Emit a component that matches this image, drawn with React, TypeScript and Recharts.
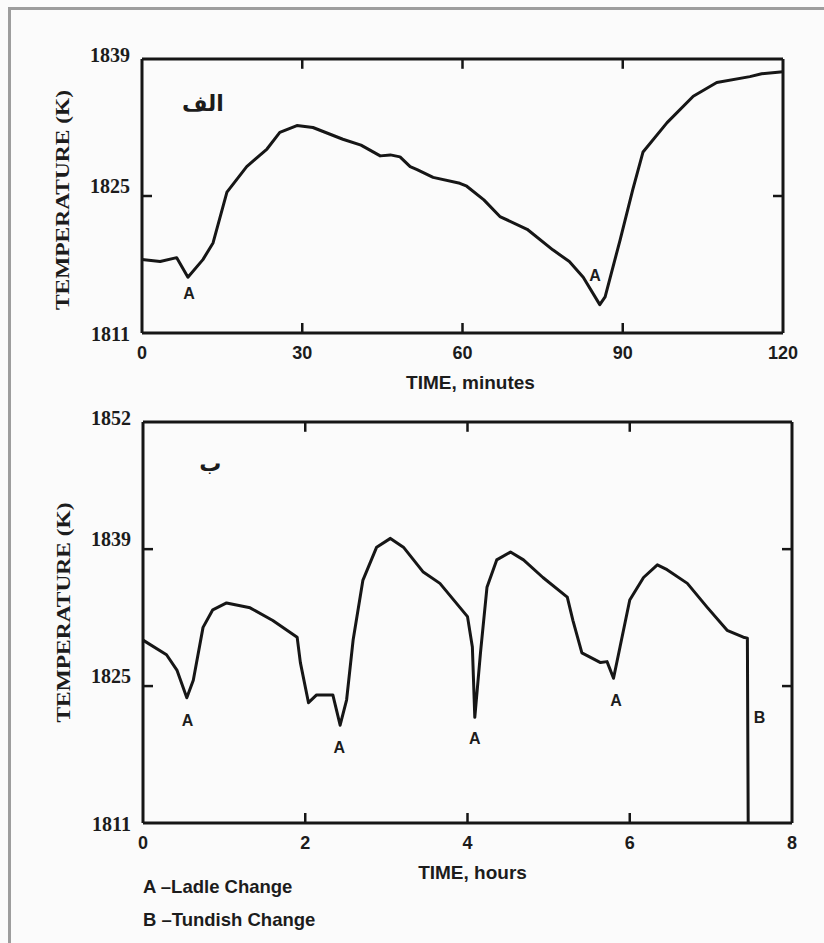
import React from 'react';
import { LineChart, Line, XAxis, YAxis, ReferenceDot, ReferenceLine } from 'recharts';

// panel الف : temperature vs minutes
const minutes = [0, 3.4, 6.5, 8.6, 11.4, 13.3, 15.9, 19.6, 23.4, 25.8, 29, 32, 37.6, 41, 44.6, 46.5, 48.3, 50.2, 51.5, 54.5, 59.5, 60.8, 64, 67, 72.1, 76.9, 80, 82.6, 85.7, 86.7, 89.5, 91.9, 93.8, 98.3, 103.2, 107.6, 113.8, 116, 120];
const tempMin = [1818.5, 1818.3, 1818.7, 1816.7, 1818.5, 1820.2, 1825.4, 1828.0, 1829.8, 1831.5, 1832.2, 1832.0, 1830.8, 1830.2, 1829.1, 1829.2, 1829.0, 1828.0, 1827.7, 1826.9, 1826.3, 1826.0, 1824.6, 1822.9, 1821.6, 1819.5, 1818.3, 1816.7, 1813.9, 1814.7, 1820.5, 1825.7, 1829.5, 1832.5, 1835.2, 1836.6, 1837.2, 1837.5, 1837.7];

// panel ب : temperature vs hours
const hours = [0, 0.29, 0.42, 0.54, 0.62, 0.74, 0.86, 1.03, 1.32, 1.6, 1.9, 1.94, 2.04, 2.14, 2.34, 2.43, 2.51, 2.59, 2.71, 2.88, 3.05, 3.21, 3.45, 3.66, 4.0, 4.06, 4.09, 4.16, 4.24, 4.36, 4.53, 4.69, 4.93, 5.23, 5.3, 5.41, 5.64, 5.72, 5.8, 5.88, 6.0, 6.17, 6.34, 6.46, 6.71, 6.95, 7.2, 7.4, 7.45, 7.46];
const tempHr = [1829.7, 1828.2, 1826.6, 1823.8, 1825.6, 1831.0, 1832.8, 1833.5, 1833.0, 1831.7, 1830.0, 1827.4, 1823.3, 1824.1, 1824.1, 1821.0, 1823.6, 1829.7, 1835.8, 1839.2, 1840.1, 1839.2, 1836.7, 1835.5, 1832.1, 1829.0, 1821.8, 1828.4, 1835.1, 1837.9, 1838.7, 1837.9, 1836.1, 1834.1, 1831.7, 1828.4, 1827.4, 1827.5, 1825.8, 1829.0, 1833.8, 1836.1, 1837.4, 1836.9, 1835.5, 1833.1, 1830.7, 1830.0, 1829.9, 1811];

const minTicks = [0, 30, 60, 90, 120];
const hrTicks = [0, 2, 4, 6, 8];
const tempTicksA = [1811, 1825, 1839];
const tempTicksB = [1811, 1825, 1839, 1852];

// annotations (data units)
const notesMin = [{ x: 8.8, y: 1815.1, t: 'A' }, { x: 84.8, y: 1816.9, t: 'A' }];
const notesHr = [
  { x: 0.55, y: 1821.5, t: 'A' },
  { x: 2.42, y: 1818.8, t: 'A' },
  { x: 4.09, y: 1819.7, t: 'A' },
  { x: 5.83, y: 1823.6, t: 'A' },
  { x: 7.6, y: 1821.8, t: 'B' },
];

const dataMin = minutes.map((t, i) => ({ t, temp: tempMin[i] }));
const dataHr = hours.map((t, i) => ({ t, temp: tempHr[i] }));

const INK = '#161616';
const SANS = '"Liberation Sans", Arial, sans-serif';
const SERIF = '"Liberation Serif", "Times New Roman", serif';

const BottomTick = (p: any) => {
  const { x, y, payload, inner } = p;
  return (
    <g>
      {inner.includes(payload.value) && <line x1={x} y1={y} x2={x} y2={y - 10} stroke={INK} strokeWidth={2.5} />}
      <text x={x} y={y + 26} textAnchor="middle" fontFamily={SANS} fontSize={18} fontWeight={600} fill="#1c1c1c">
        {payload.value}
      </text>
    </g>
  );
};

const LeftTick = (p: any) => {
  const { x, y, payload, inner, last } = p;
  const dy = payload.value === last ? 9 : payload.value === 1811 ? 14 : 3;
  return (
    <g>
      {inner.includes(payload.value) && <line x1={x} y1={y} x2={x + 10} y2={y} stroke={INK} strokeWidth={2.5} />}
      <text x={x - 12} y={y + dy - 6} textAnchor="end" fontFamily={SERIF} fontSize={20} fontWeight={700} fill="#1c1c1c">
        {payload.value}
      </text>
    </g>
  );
};

const RightTick = (p: any) => <line x1={p.x} y1={p.y} x2={p.x - 10} y2={p.y} stroke={INK} strokeWidth={2.5} />;

// inward tick marks on the top frame edge
const topTicks = (xs: number[], yTop: number, len: number) =>
  xs.map((x) => (
    <ReferenceLine
      key={'tt' + x}
      segment={[{ x, y: yTop }, { x, y: yTop - len }]}
      stroke={INK}
      strokeWidth={2.5}
    />
  ));

const note = (n: { x: number; y: number; t: string }, i: number) => (
  <ReferenceDot
    key={i}
    x={n.x}
    y={n.y}
    r={0}
    stroke="none"
    shape={(s: any) => (
      <text x={s.cx} y={s.cy + 6} textAnchor="middle" fontFamily={SANS} fontSize={16} fontWeight={600} fill="#1c1c1c">
        {n.t}
      </text>
    )}
  />
);

const arabic = (x: number, y: number, t: string) => (
  <ReferenceDot
    x={x}
    y={y}
    r={0}
    stroke="none"
    shape={(s: any) => (
      <text x={s.cx} y={s.cy + 8} textAnchor="middle" fontFamily='"DejaVu Sans", sans-serif' fontSize={22} fontWeight={700} fill="#1c1c1c">
        {t}
      </text>
    )}
  />
);

const yLabel = (dy: number) => (props: any) => {
  const vb = props.viewBox;
  const cx = vb.x + vb.width - 80;
  const cy = vb.y + vb.height / 2 + dy;
  return (
    <text
      x={cx}
      y={cy}
      transform={`rotate(-90 ${cx} ${cy})`}
      textAnchor="middle"
      dominantBaseline="central"
      fontFamily={SERIF}
      fontSize={19}
      fontWeight={700}
      fill="#1c1c1c"
      textLength={220}
      lengthAdjust="spacingAndGlyphs"
    >
      TEMPERATURE (K)
    </text>
  );
};

const xLabel = (text: string, dx: number) => (props: any) => {
  const vb = props.viewBox;
  return (
    <text x={vb.x + vb.width / 2 + dx} y={vb.y + 56} textAnchor="middle" fontFamily={SANS} fontSize={19} fontWeight={600} fill="#1c1c1c">
      {text}
    </text>
  );
};

const axisStroke = { stroke: INK, strokeWidth: 3 };

export default function App() {
  return (
    <div style={{ position: 'absolute', left: 0, top: 0, width: 824, height: 943, background: '#fbfbfb', overflow: 'hidden' }}>
      <div style={{ position: 'absolute', left: 8, top: 7, width: 830, height: 950, borderTop: '3px solid #9d9d9d', borderLeft: '3px solid #9d9d9d' }} />

      <div style={{ position: 'absolute', left: 0, top: 0 }}>
        <LineChart width={824} height={400} data={dataMin} margin={{ top: 58, left: 141, right: 40, bottom: 66 }}>
          <XAxis
            dataKey="t"
            type="number"
            domain={[0, 120]}
            ticks={minTicks}
            interval={0}
            height={1}
            tickSize={0}
            tickMargin={0}
            axisLine={axisStroke}
            tickLine={false}
            tick={(p: any) => <BottomTick {...p} inner={[30, 60, 90]} />}
            label={{ content: xLabel('TIME, minutes', 8) } as any}
          />
          <XAxis xAxisId="top" orientation="top" height={1} tick={false} tickLine={false} axisLine={axisStroke} />
          <YAxis
            type="number"
            domain={[1811, 1839]}
            ticks={tempTicksA}
            interval={0}
            width={1}
            tickSize={0}
            tickMargin={0}
            allowDataOverflow
            axisLine={axisStroke}
            tickLine={false}
            tick={(p: any) => <LeftTick {...p} inner={[1825]} last={1839} />}
            label={{ content: yLabel(4) } as any}
          />
          <YAxis
            yAxisId="right"
            orientation="right"
            type="number"
            domain={[1811, 1839]}
            ticks={[1825]}
            interval={0}
            width={1}
            tickSize={0}
            tickMargin={0}
            allowDataOverflow
            axisLine={axisStroke}
            tickLine={false}
            tick={RightTick}
          />
          {topTicks([30, 60, 90], 1839, 1.0)}
          <Line type="linear" dataKey="temp" stroke={INK} strokeWidth={3} dot={false} strokeLinejoin="round" isAnimationActive={false} />
          {notesMin.map(note)}
          {arabic(11.4, 1834.5, 'الف')}
        </LineChart>
      </div>

      <div style={{ position: 'absolute', left: 0, top: 400 }}>
        <LineChart width={824} height={543} data={dataHr} margin={{ top: 21, left: 142, right: 31, bottom: 119 }}>
          <XAxis
            dataKey="t"
            type="number"
            domain={[0, 8]}
            ticks={hrTicks}
            interval={0}
            height={1}
            tickSize={0}
            tickMargin={0}
            axisLine={axisStroke}
            tickLine={false}
            tick={(p: any) => <BottomTick {...p} inner={[2, 4, 6]} />}
            label={{ content: xLabel('TIME, hours', 5) } as any}
          />
          <XAxis xAxisId="top" orientation="top" height={1} tick={false} tickLine={false} axisLine={axisStroke} />
          <YAxis
            type="number"
            domain={[1811, 1852]}
            ticks={tempTicksB}
            interval={0}
            width={1}
            tickSize={0}
            tickMargin={0}
            allowDataOverflow
            axisLine={axisStroke}
            tickLine={false}
            tick={(p: any) => <LeftTick {...p} inner={[1825, 1839]} last={1852} />}
            label={{ content: yLabel(-10) } as any}
          />
          <YAxis
            yAxisId="right"
            orientation="right"
            type="number"
            domain={[1811, 1852]}
            ticks={[1825, 1839]}
            interval={0}
            width={1}
            tickSize={0}
            tickMargin={0}
            allowDataOverflow
            axisLine={axisStroke}
            tickLine={false}
            tick={RightTick}
          />
          {topTicks([2, 4, 6], 1852, 1.0)}
          <Line type="linear" dataKey="temp" stroke={INK} strokeWidth={3} dot={false} strokeLinejoin="round" isAnimationActive={false} />
          {notesHr.map(note)}
          {arabic(0.83, 1847.8, 'ب')}
        </LineChart>
      </div>

      <div style={{ position: 'absolute', left: 143, top: 870, fontFamily: SANS, fontSize: 18.5, fontWeight: 600, color: '#1c1c1c', lineHeight: '33px' }}>
        <div>A –Ladle Change</div>
        <div>B –Tundish Change</div>
      </div>
    </div>
  );
}
